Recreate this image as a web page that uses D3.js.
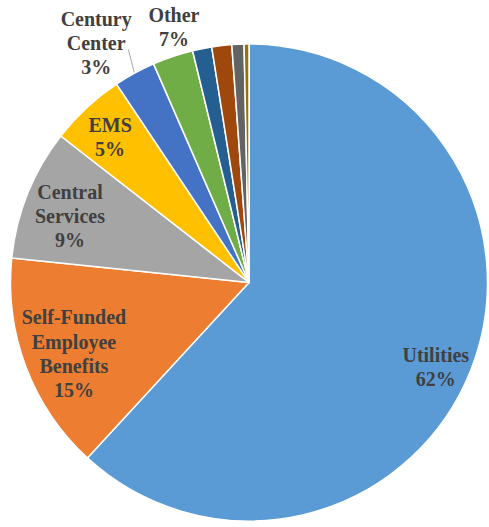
<!DOCTYPE html>
<html>
<head>
<meta charset="utf-8">
<script src="https://cdn.jsdelivr.net/npm/d3@7"></script>
<style>
  html, body { margin: 0; padding: 0; background: #ffffff; }
  svg { display: block; }
</style>
</head>
<body>
<svg id="chart" width="489" height="527"></svg>
<script>
// ---- data ----
const categories = ["Utilities", "Self-Funded Employee Benefits", "Central Services", "EMS", "Century Center",
                    "Other A", "Other B", "Other C", "Other D", "Other E"];
const values = [61.85, 14.78, 8.9, 5.1, 2.82, 2.75, 1.3, 1.35, 0.82, 0.33];
const colors = ["#5B9BD5", "#ED7D31", "#A5A5A5", "#FFC000", "#4472C4",
                "#70AD47", "#255E91", "#9E480E", "#636363", "#997300"];

// labels: text lines and the slice indices they describe
const labelLines = [
  ["Utilities", "62%"],
  ["Self-Funded", "Employee", "Benefits", "15%"],
  ["Central", "Services", "9%"],
  ["EMS", "5%"],
  ["Century", "Center", "3%"],
  ["Other", "7%"]
];
const labelSlices = [[0], [1], [2], [3], [4], [5, 6, 7, 8, 9]];

// ---- layout ----
const cx = 249, cy = 282.5, R = 238.5;
const labelRadius = [205, 189, 191, 201, 284, 266];
const labelAngleShift = [3, -1.4, -1.5, -0.8, -3.9, -4.6]; // degrees
const lineH = 24.3;

const svg = d3.select("#chart");
const g = svg.append("g").attr("transform", `translate(${cx},${cy})`);

const pie = d3.pie().sort(null).value(d => d)(values);
const arc = d3.arc().innerRadius(0).outerRadius(R);

g.selectAll("path.slice")
  .data(pie)
  .enter().append("path")
  .attr("class", "slice")
  .attr("d", arc)
  .attr("fill", (d, i) => colors[i])
  .attr("stroke", "#ffffff")
  .attr("stroke-width", 1.5)
  .attr("stroke-linejoin", "round");

const toRad = Math.PI / 180;
function polar(angle, r) {
  return [Math.sin(angle) * r, -Math.cos(angle) * r];
}

labelLines.forEach((lines, li) => {
  const sl = labelSlices[li];
  const a0 = pie[sl[0]].startAngle, a1 = pie[sl[sl.length - 1]].endAngle;
  const mid = (a0 + a1) / 2 + labelAngleShift[li] * toRad;
  const [x, y] = polar(mid, labelRadius[li]);
  const n = lines.length;
  const t = g.append("text")
    .attr("text-anchor", "middle")
    .attr("font-family", "'Liberation Serif', 'DejaVu Serif', serif")
    .attr("font-weight", "bold")
    .attr("font-size", 20)
    .attr("fill", "#404040");
  lines.forEach((s, k) => {
    t.append("tspan")
      .attr("x", x)
      .attr("y", y + (k - (n - 1) / 2) * lineH + 7)
      .text(s);
  });
});

// leader line for Century Center
{
  const d = pie[4];
  const mid = (d.startAngle + d.endAngle) / 2;
  const p0 = polar(mid, R + 1);
  const p1 = polar(mid + 1.3 * toRad, R + 24);
  g.append("line")
    .attr("x1", p0[0]).attr("y1", p0[1])
    .attr("x2", p1[0]).attr("y2", p1[1])
    .attr("stroke", "#A6A6A6")
    .attr("stroke-width", 1);
}
</script>
</body>
</html>
